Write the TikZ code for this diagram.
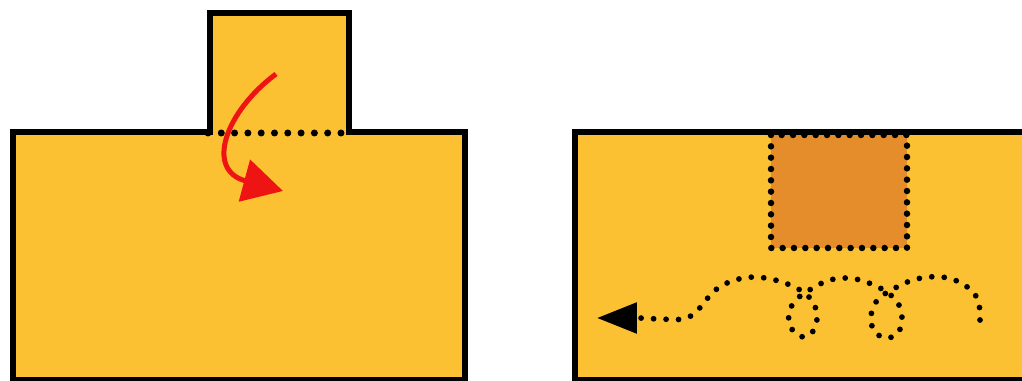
\documentclass[tikz,border=0pt]{standalone}
\usepackage{xcolor}
\usetikzlibrary{arrows.meta}
\definecolor{slab}{RGB}{252,193,50}
\definecolor{pocket}{RGB}{229,141,42}
\definecolor{flowred}{RGB}{238,20,20}

\begin{document}
\begin{tikzpicture}[
  x=0.02cm, y=-0.02cm,
  outline/.style={draw=black, line width=0.11cm, line join=miter},
  seam/.style={draw=black, line width=0.14cm, line cap=round,
    dash pattern=on 0pt off 0.266cm},
  pocketline/.style={draw=black, line width=0.13cm, line cap=round,
    dash pattern=on 0pt off 0.2267cm},
  trail/.style={draw=black, line width=0.115cm, line cap=round,
    dash pattern=on 0pt off 0.25cm,
    -{Triangle[length=0.8cm, width=0.6cm]}},
  push/.style={draw=flowred, line width=0.1cm,
    -{Triangle[length=0.8cm, width=0.85cm]}}
]
\useasboundingbox (0,0) rectangle (1022,381);

% Left block with the tab on top.
\fill[slab] (13,132) -- (210,132) -- (210,13) -- (349,13) -- (349,132)
  -- (465,132) -- (465,380) -- (13,380) -- cycle;
\draw[outline] (210,132) -- (13,132) -- (13,380) -- (465,380) -- (465,132)
  -- (349,132) -- (349,13) -- (210,13) -- cycle;
\draw[seam] (208,133) -- (342,133);

% Tab pushed down into the block.
\draw[push] (276,74) .. controls (225,112) and (205,170) .. (283,191);

% Right block with the sunken pocket.
\fill[slab] (575,132) rectangle (1030,380);
\filldraw[fill=pocket, pocketline] (771,135) rectangle (907,248);
\draw[outline] (1030,132) -- (575,132) -- (575,380) -- (1030,380);

% Wandering path out to the left.
\coordinate (tip) at (597,318);
\draw[trail] plot[smooth, tension=0.6] coordinates {
  (980,320) (978,300) (966,286) (948,278) (928,277) (910,281) (897,287)
  (886,293) (876,302) (871,316) (874,331) (886,338) (898,333) (902,318)
  (898,303) (888,293) (876,286) (860,280) (845,278) (830,280) (818,285)
  (808,291) (797,299) (789,312) (791,328) (803,337) (814,330) (817,316)
  (813,302) (803,292) (790,285) (775,280) (755,277) (735,280) (718,288)
  (706,300) (696,312) (683,319) (660,319) (640,318)} -- (tip);

\end{tikzpicture}
\end{document}
